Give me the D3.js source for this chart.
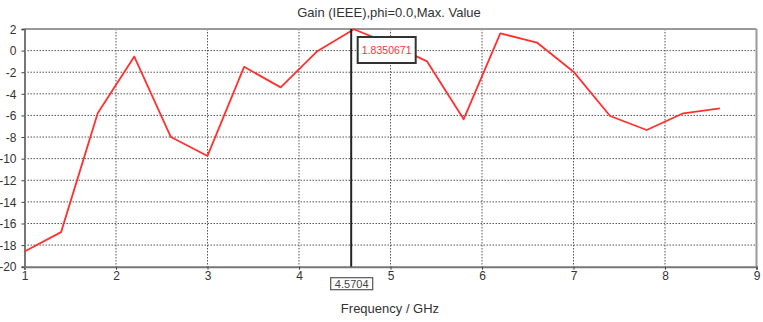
<!DOCTYPE html>
<html>
<head>
<meta charset="utf-8">
<script src="https://cdn.jsdelivr.net/npm/d3@7"></script>
<style>
  body { margin: 0; background: #fff; }
  text { font-family: "Liberation Sans", Arial, sans-serif; fill: #333; }
</style>
</head>
<body>
<div id="chart-area"></div>
<script>
// data
var freq = [1, 1.4, 1.8, 2.2, 2.6, 3.0, 3.4, 3.8, 4.2, 4.6, 5.0, 5.4, 5.8, 6.2, 6.6, 7.0, 7.4, 7.8, 8.2, 8.6];
var gain = [-18.6, -16.8, -5.8, -0.55, -8.0, -9.75, -1.5, -3.4, -0.05, 1.98, 0.6, -1.0, -6.35, 1.6, 0.75, -1.95, -6.05, -7.35, -5.8, -5.35];
var xTicks = [1, 2, 3, 4, 5, 6, 7, 8, 9];
var yTicks = [2, 0, -2, -4, -6, -8, -10, -12, -14, -16, -18, -20];
var markerX = 4.5704;
var markerY = "1.8350671";

var margin = { left: 24.5, right: 6.5, top: 29, bottom: 55.3 };
var W = 763, H = 322;
var width = W - margin.left - margin.right,
    height = H - margin.top - margin.bottom;

var svg = d3.select("#chart-area")
    .append("svg")
        .attr("width", W)
        .attr("height", H);

var g = svg.append("g")
    .attr("transform", "translate(" + margin.left + "," + margin.top + ")");

var x = d3.scaleLinear().domain([1, 9]).range([0, width]);
var y = d3.scaleLinear().domain([-20, 2]).range([height, 0]);

// dotted grid
g.selectAll(".vgrid")
    .data(xTicks.slice(1, -1))
    .enter().append("line")
        .attr("x1", function(d) { return x(d); })
        .attr("x2", function(d) { return x(d); })
        .attr("y1", 0).attr("y2", height)
        .attr("stroke", "#555")
        .attr("stroke-dasharray", "1.5,1.5");

g.selectAll(".hgrid")
    .data(yTicks.slice(1, -1))
    .enter().append("line")
        .attr("x1", 0).attr("x2", width)
        .attr("y1", function(d) { return y(d); })
        .attr("y2", function(d) { return y(d); })
        .attr("stroke", "#555")
        .attr("stroke-dasharray", "1.5,1.5");

// frame
g.append("line").attr("x1", 0).attr("x2", width).attr("y1", 0).attr("y2", 0)
    .attr("stroke", "#999").attr("stroke-width", 2);
g.append("line").attr("x1", width).attr("x2", width).attr("y1", 0).attr("y2", height)
    .attr("stroke", "#999").attr("stroke-width", 2);

// axes
var xAxisCall = d3.axisBottom(x).tickValues(xTicks).tickSize(3).tickPadding(2)
    .tickFormat(function(d) { return d; });
var xAxis = g.append("g")
    .attr("class", "x axis")
    .attr("transform", "translate(0," + height + ")")
    .call(xAxisCall);

var yAxisCall = d3.axisLeft(y).tickValues(yTicks).tickSize(3).tickPadding(5)
    .tickFormat(function(d) { return d; });
var yAxis = g.append("g")
    .attr("class", "y axis")
    .call(yAxisCall);

[xAxis, yAxis].forEach(function(a) {
    a.select(".domain").attr("stroke", "#777").attr("stroke-width", 2);
    a.selectAll(".tick line").attr("stroke", "#444");
    a.selectAll(".tick text")
        .attr("font-family", "Liberation Sans, Arial, sans-serif")
        .attr("font-size", "12px")
        .attr("fill", "#333");
});
yAxis.selectAll(".tick text").attr("dy", "0.35em");

// curve
var line = d3.line()
    .x(function(d, i) { return x(freq[i]); })
    .y(function(d) { return y(d); });

g.append("path")
    .datum(gain)
    .attr("d", line)
    .attr("fill", "none")
    .attr("stroke", "#ff3030")
    .attr("stroke-width", 1.8)
    .attr("stroke-linejoin", "round");

// marker
g.append("line")
    .attr("x1", x(markerX)).attr("x2", x(markerX))
    .attr("y1", 0).attr("y2", height)
    .attr("stroke", "#222")
    .attr("stroke-width", 2);

g.append("rect")
    .attr("x", x(markerX) + 6.5).attr("y", 8)
    .attr("width", 58).attr("height", 26)
    .attr("fill", "#fff")
    .attr("stroke", "#333")
    .attr("stroke-width", 2);
g.append("text")
    .attr("x", x(markerX) + 35.5).attr("y", 25)
    .attr("text-anchor", "middle")
    .attr("font-size", "10.5px")
    .style("fill", "#ff3030")
    .text(markerY);

g.append("rect")
    .attr("x", x(markerX) - 20.5).attr("y", height + 11)
    .attr("width", 42).attr("height", 12)
    .attr("fill", "#fff")
    .attr("stroke", "#555")
    .attr("stroke-width", 1.2);
g.append("text")
    .attr("x", x(markerX) + 0.5).attr("y", height + 21)
    .attr("text-anchor", "middle")
    .attr("font-size", "11px")
    .style("fill", "#444")
    .text(markerX);

// titles
svg.append("text")
    .attr("x", 389).attr("y", 17)
    .attr("text-anchor", "middle")
    .attr("font-size", "13px")
    .text("Gain (IEEE),phi=0.0,Max. Value");

svg.append("text")
    .attr("x", 390).attr("y", 313)
    .attr("text-anchor", "middle")
    .attr("font-size", "13px")
    .text("Frequency / GHz");
</script>
</body>
</html>
